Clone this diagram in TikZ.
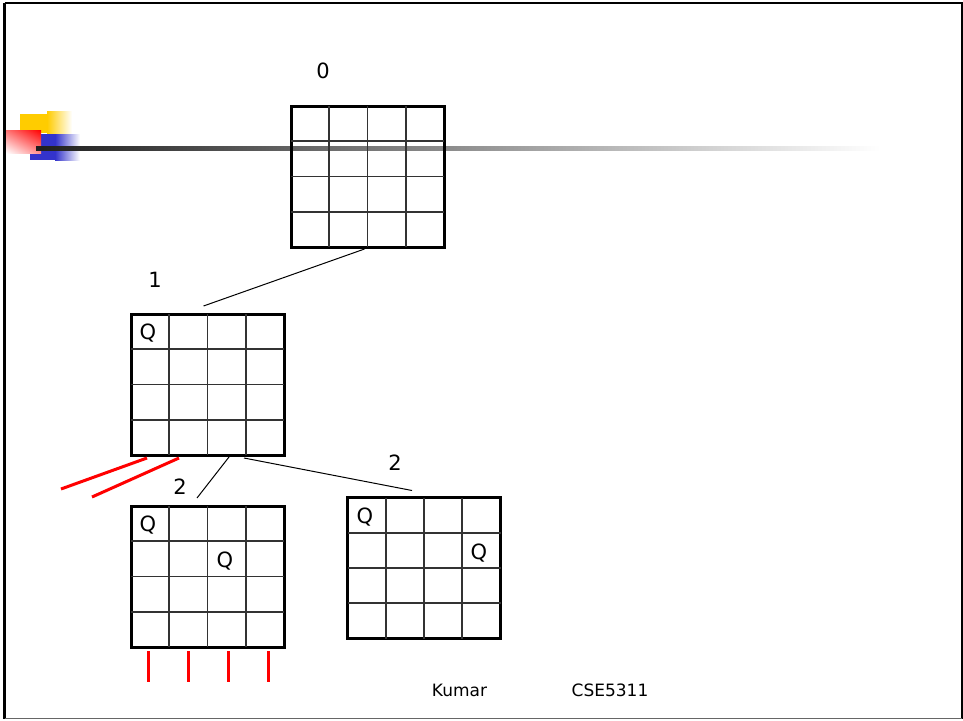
\documentclass[tikz,border=0pt]{standalone}
\usepackage{fontspec}
\setmainfont{DejaVu Sans}
\usetikzlibrary{calc,shadings}
\definecolor{decoyellow}{HTML}{FFCC00}
\definecolor{decoblue}{HTML}{3333CC}
\tikzset{
  board/.style={draw=black, line width=3pt, minimum width=153pt, minimum height=141pt, inner sep=0pt, outer sep=0pt},
  gridline/.style={draw=black!80, line width=1.6pt},
  conn/.style={draw=black, line width=1pt},
  redline/.style={draw=red, line width=3pt},
  qtext/.style={font=\fontsize{21}{21}\selectfont, inner sep=0pt},
  lvl/.style={font=\fontsize{21}{21}\selectfont, inner sep=0pt},
  foot/.style={font=\fontsize{17}{17}\selectfont, inner sep=0pt}
}
\newcommand\boardgrid[1]{%
  \foreach \i in {1,2,3}{%
    \draw[gridline] ($(#1.north west)!\i/4!(#1.north east)$) -- ($(#1.south west)!\i/4!(#1.south east)$);
    \draw[gridline] ($(#1.north west)!\i/4!(#1.south west)$) -- ($(#1.north east)!\i/4!(#1.south east)$);
  }%
}
\begin{document}
\begin{tikzpicture}[x=1pt,y=-1pt]
\useasboundingbox (0,0) rectangle (963,720);
% slide frame
\draw[black, line width=2.5pt] (4.5,3) -- (962,3) -- (962,718.5);
\draw[black, line width=3pt] (4.5,3) -- (4.5,718.5);
\draw[black!60, line width=1.5pt] (4.5,718.5) -- (962,718.5);
% decoration
\fill[decoyellow] (20,114) rectangle (47,133);
\shade[left color=decoyellow, right color=white] (47,111) rectangle (72,133);
\fill[decoblue] (30,134) rectangle (55,160);
\shade[left color=decoblue, right color=white] (55,134) rectangle (80,160);
\shade[upper right=red, upper left=red!55, lower right=red!45, lower left=white] (6,130) rectangle (41,153);
\shade[left color=black!88, right color=white] (36,146) rectangle (880,150);
% boards
\node[board] (b0) at (367.5,176.5) {};
\node[board] (b1) at (207.5,384.5) {};
\node[board] (b2a) at (207.5,576.5) {};
\node[board] (b2b) at (424,568) {};
\boardgrid{b0}
\boardgrid{b1}
\boardgrid{b2a}
\boardgrid{b2b}
% queens
\node[qtext] (q1) at (148,333) {Q};
\node[qtext] (q2a1) at (148,525) {Q};
\node[qtext] (q2a2) at (225,561) {Q};
\node[qtext] (q2b1) at (365,517) {Q};
\node[qtext] (q2b2) at (479,553) {Q};
% level labels
\node[lvl] (l0) at (323,71) {0};
\node[lvl] (l1) at (155,280) {1};
\node[lvl] (l2a) at (180,487) {2};
\node[lvl] (l2b) at (395,463) {2};
% connectors
\coordinate (c0) at ($(b0.south)+(-3,2)$);
\coordinate (c1) at ($(b1.north)+(-4,-8)$);
\coordinate (c1a) at ($(b1.south)+(21.5,2)$);
\coordinate (c1b) at ($(b1.south)+(36.5,3)$);
\coordinate (c2a) at ($(b2a.north)+(-10.5,-8)$);
\coordinate (c2b) at ($(b2b.north)+(-12,-7)$);
\draw[conn] (c0) -- (c1);
\draw[conn] (c1a) -- (c2a);
\draw[conn] (c1b) -- (c2b);
% red pruned branches
\coordinate (r1s) at (147,458);
\coordinate (r1e) at (61,489);
\coordinate (r2s) at (179,458);
\coordinate (r2e) at (92,497);
\draw[redline] (r1s) -- (r1e);
\draw[redline] (r2s) -- (r2e);
\foreach \x in {148,188,228,268}{
  \draw[redline] (\x,651) -- (\x,682);
}
% footer
\node[foot] (fk) at (459.5,690) {Kumar};
\node[foot] (fc) at (610,690) {CSE5311};
\end{tikzpicture}
\end{document}
